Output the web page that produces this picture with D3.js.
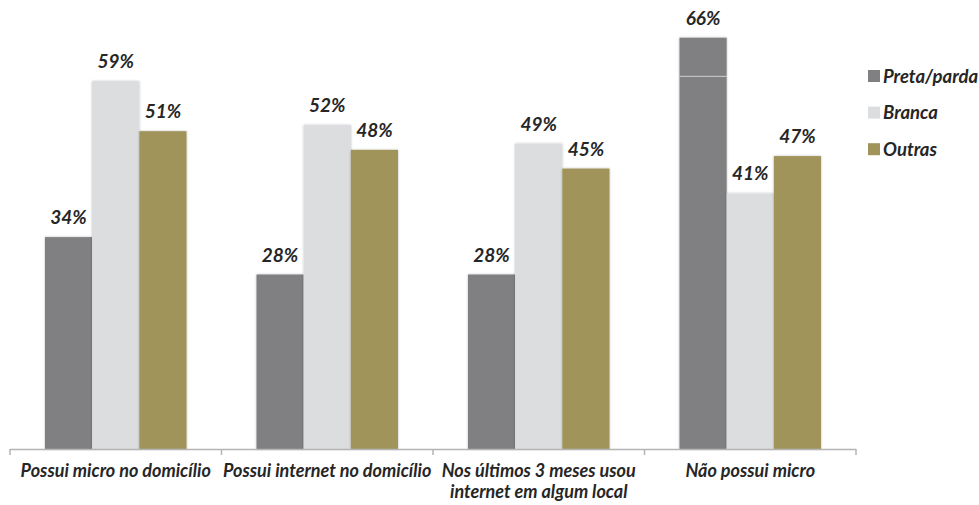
<!DOCTYPE html>
<html>
<head>
<meta charset="utf-8">
<script src="https://cdn.jsdelivr.net/npm/d3@7"></script>
<style>
  html, body { margin: 0; padding: 0; background: #fff; }
  svg { display: block; font-family: Lato, "Open Sans", sans-serif; }
</style>
</head>
<body>
<svg id="chart" width="979" height="505"></svg>
<script>
// Categories (x axis), each may wrap onto two lines
const categories = [
  ["Possui micro no domicílio"],
  ["Possui internet no domicílio"],
  ["Nos últimos 3 meses usou", "internet em algum local"],
  ["Não possui micro"]
];
const seriesNames = ["Preta/parda", "Branca", "Outras"];
const seriesColors = ["#808082", "#dcdddf", "#a0945a"];
// Percentages per series, one value per category
const pretaParda = [34, 28, 28, 66];
const branca     = [59, 52, 49, 41];
const outras     = [51, 48, 45, 47];
const seriesValues = [pretaParda, branca, outras];

const svg = d3.select("#chart");
const baseY = 449, axisLeft = 10, axisRight = 856;

const defs = svg.append("defs");
const f = defs.append("filter").attr("id", "soft").attr("x", "-10%").attr("y", "-5%").attr("width", "120%").attr("height", "110%");
f.append("feDropShadow").attr("dx", 0).attr("dy", 0).attr("stdDeviation", 1.1)
  .attr("flood-color", "#000").attr("flood-opacity", 0.28);

const keys = categories.map((c, i) => i);
const x0 = d3.scaleBand().domain(keys).range([axisLeft, axisRight]).paddingInner(0).paddingOuter(0);
const groupPad = 35;
const x1 = d3.scaleBand().domain(d3.range(seriesNames.length))
  .range([groupPad, x0.bandwidth() - groupPad]);
const y = d3.scaleLinear().domain([0, 66]).range([baseY, 37.7]);

const textFill = "#262626";

// Bars
const groups = svg.append("g").selectAll("g").data(keys).join("g")
  .attr("transform", d => `translate(${x0(d)},0)`);

groups.selectAll("rect").data(ci => seriesValues.map((vals, si) => ({ si, v: vals[ci] })))
  .join("rect")
  .attr("x", d => x1(d.si))
  .attr("width", x1.bandwidth())
  .attr("y", d => y(d.v))
  .attr("height", d => baseY - y(d.v))
  .attr("fill", d => seriesColors[d.si])
  .attr("filter", "url(#soft)");

// Value labels
groups.selectAll("text.val").data(ci => seriesValues.map((vals, si) => ({ si, v: vals[ci] })))
  .join("text").attr("class", "val")
  .attr("x", d => x1(d.si) + x1.bandwidth() / 2)
  .attr("y", d => y(d.v) - 13)
  .attr("text-anchor", "middle")
  .attr("font-size", 19).attr("font-weight", 700).attr("font-style", "italic")
  .attr("fill", textFill)
  .text(d => d.v + "%");

// Thin seam across the tallest bar
const tallest = d3.maxIndex(pretaParda);
svg.append("line")
  .attr("x1", x0(tallest) + x1(0)).attr("x2", x0(tallest) + x1(0) + x1.bandwidth())
  .attr("y1", y(59.8)).attr("y2", y(59.8))
  .attr("stroke", "#cfcfd1").attr("stroke-width", 1);

// X axis with ticks at category boundaries
const axisG = svg.append("g");
axisG.append("line").attr("x1", axisLeft).attr("x2", axisRight)
  .attr("y1", baseY + 0.5).attr("y2", baseY + 0.5)
  .attr("stroke", "#b4b4b4").attr("stroke-width", 1.5);
const bounds = keys.map(k => x0(k)).concat([axisRight]);
axisG.selectAll("line.tick").data(bounds).join("line").attr("class", "tick")
  .attr("x1", d => d).attr("x2", d => d)
  .attr("y1", baseY).attr("y2", baseY + 6)
  .attr("stroke", "#b4b4b4").attr("stroke-width", 1.5);

// Category labels
const catText = svg.append("g").selectAll("text").data(keys).join("text")
  .attr("x", k => x0(k) + x0.bandwidth() / 2)
  .attr("y", 477)
  .attr("text-anchor", "middle")
  .attr("font-size", 18).attr("font-weight", 700).attr("font-style", "italic")
  .attr("fill", textFill);
catText.selectAll("tspan").data(k => categories[k]).join("tspan")
  .attr("x", function () { return d3.select(this.parentNode).attr("x"); })
  .attr("dy", (d, i) => i === 0 ? 0 : 21)
  .text(d => d);

// Legend
const legend = svg.append("g").selectAll("g").data(seriesNames).join("g")
  .attr("transform", (d, i) => `translate(868,${76 + i * 36.6})`);
legend.append("rect").attr("x", 0).attr("y", -6).attr("width", 12).attr("height", 12)
  .attr("fill", (d, i) => seriesColors[i]);
legend.append("text").attr("x", 15).attr("y", 6.5)
  .attr("font-size", 18.5).attr("font-weight", 700).attr("font-style", "italic")
  .attr("fill", textFill).text(d => d);
</script>
</body>
</html>
